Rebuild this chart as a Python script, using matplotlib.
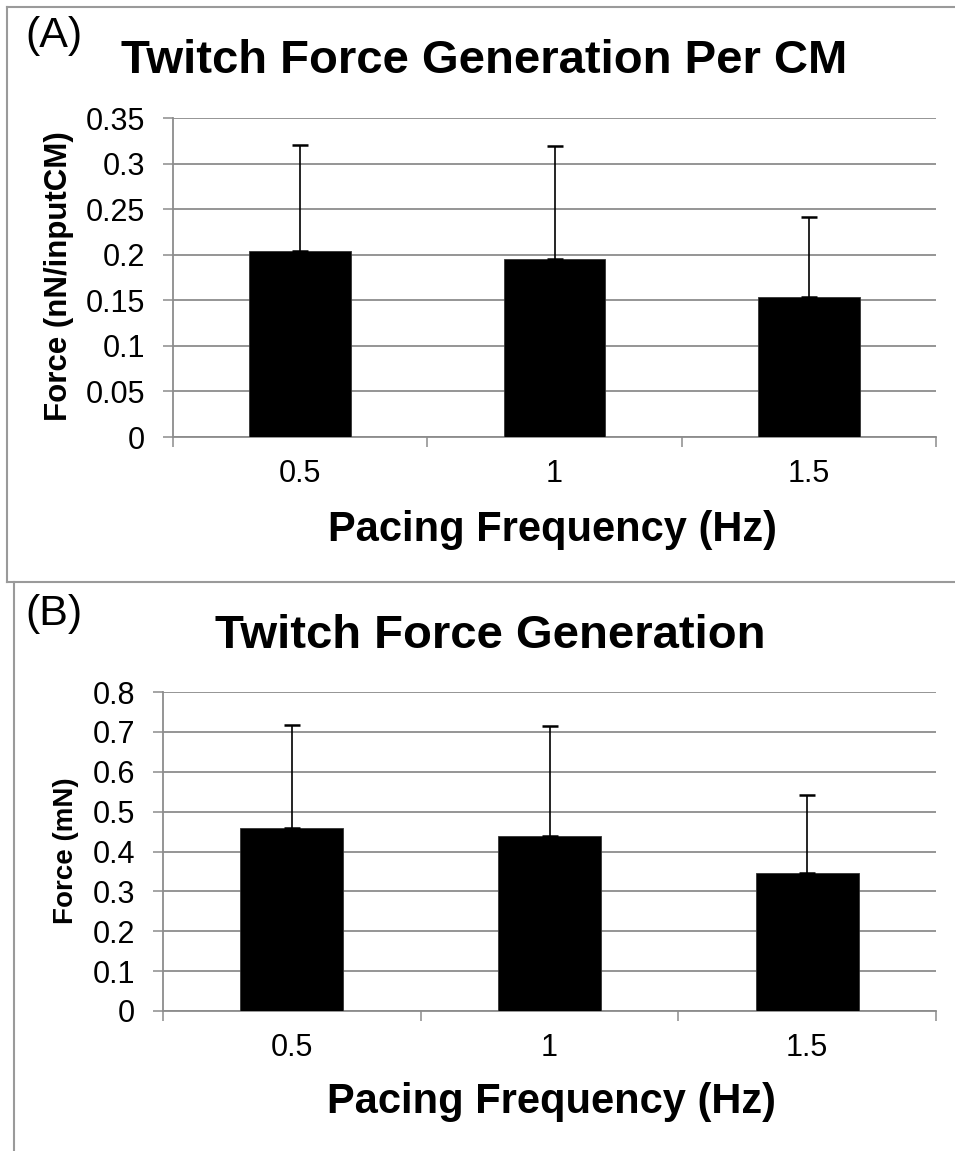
"""Twitch force bar charts, two stacked panels."""

import matplotlib
matplotlib.use("Agg")
import matplotlib.pyplot as plt
from matplotlib.lines import Line2D

plt.rcParams["font.family"] = ["Liberation Sans", "DejaVu Sans"]

W, H = 955, 1151

freq_labels = ["0.5", "1", "1.5"]
force_per_cm = [0.204, 0.195, 0.154]
force_per_cm_err = [0.116, 0.124, 0.087]
force_mn = [0.458, 0.440, 0.347]
force_mn_err = [0.260, 0.275, 0.194]

GRID = "#8c8c8c"
BORDER = "#9a9a9a"


def fx(x):
    return x / W


def fy(y):
    return 1 - y / H


def bar_panel(fig, rect, values, errs, ymax, ystep, yfmt):
    left, top, right, bottom = rect
    ax = fig.add_axes([fx(left), fy(bottom), fx(right) - fx(left), (bottom - top) / H])
    pos = list(range(len(values)))
    ax.bar(pos, values, width=0.4, color="black", edgecolor="#333333", linewidth=0.6,
           yerr=[[0] * len(errs), errs], capsize=6,
           error_kw=dict(ecolor="black", elinewidth=1.2, capthick=1.8), zorder=3)
    ax.set_xlim(-0.5, len(values) - 0.5)
    ax.set_ylim(0, ymax)
    n = int(round(ymax / ystep))
    ticks = [i * ystep for i in range(n + 1)]
    ax.set_yticks(ticks)
    ax.set_yticklabels([yfmt(t) for t in ticks], fontsize=22)
    ax.yaxis.grid(True, color=GRID, linewidth=1.3)
    ax.set_axisbelow(True)
    ax.set_xticks(pos)
    ax.set_xticklabels(freq_labels, fontsize=22)
    ax.set_xticks([p - 0.5 for p in pos] + [len(values) - 0.5], minor=True)
    ax.tick_params(axis="x", which="major", length=0, pad=16)
    ax.tick_params(axis="x", which="minor", length=7, width=1.1, color=GRID, direction="out")
    ax.tick_params(axis="y", length=7, width=1.1, color=GRID, pad=13)
    for s in ("top", "right"):
        ax.spines[s].set_visible(False)
    for s in ("left", "bottom"):
        ax.spines[s].set_color(GRID)
        ax.spines[s].set_linewidth(1.3)
    return ax


def fmt_num(v):
    s = f"{v:.2f}".rstrip("0").rstrip(".")
    return s if s else "0"


fig = plt.figure(figsize=(W / 100, H / 100), dpi=100)

# panel borders
fig.add_artist(Line2D([fx(7), fx(955)], [fy(7), fy(7)], color=BORDER, lw=1.5))
fig.add_artist(Line2D([fx(7), fx(7)], [fy(7), fy(582)], color=BORDER, lw=1.5))
fig.add_artist(Line2D([fx(7), fx(955)], [fy(582), fy(582)], color=BORDER, lw=1.5))
fig.add_artist(Line2D([fx(14), fx(14)], [fy(582), fy(1151)], color=BORDER, lw=1.5))

# panel A
bar_panel(fig, (173, 118, 936, 437), force_per_cm, force_per_cm_err, 0.35, 0.05, fmt_num)
fig.text(fx(25), fy(47), "(A)", fontsize=31, va="baseline", ha="left")
fig.text(fx(484), fy(73), "Twitch Force Generation Per CM", fontsize=34,
         fontweight="bold", ha="center", va="baseline")
fig.text(fx(552), fy(541), "Pacing Frequency (Hz)", fontsize=30,
         fontweight="bold", ha="center", va="baseline")
fig.text(fx(59), fy(276), "Force (nN/inputCM)", fontsize=22.5, fontweight="bold",
         rotation=90, ha="center", va="center")

# panel B
bar_panel(fig, (163, 692, 936, 1011), force_mn, force_mn_err, 0.8, 0.1, fmt_num)
fig.text(fx(25), fy(625), "(B)", fontsize=31, va="baseline", ha="left")
fig.text(fx(490), fy(648), "Twitch Force Generation", fontsize=34,
         fontweight="bold", ha="center", va="baseline")
fig.text(fx(551), fy(1113), "Pacing Frequency (Hz)", fontsize=30,
         fontweight="bold", ha="center", va="baseline")
fig.text(fx(66), fy(851), "Force (mN)", fontsize=20, fontweight="bold",
         rotation=90, ha="center", va="center")

fig.savefig("out.png", dpi=100)
